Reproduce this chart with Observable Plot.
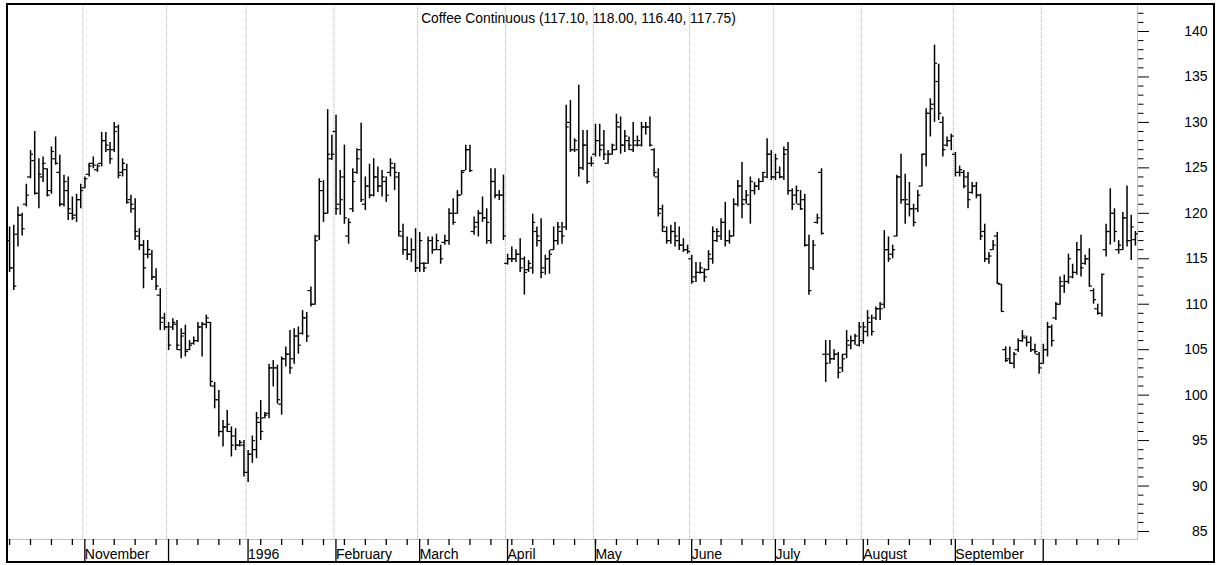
<!DOCTYPE html>
<html><head><meta charset="utf-8">
<script src="https://cdn.jsdelivr.net/npm/d3@7"></script>
<script src="https://cdn.jsdelivr.net/npm/@observablehq/plot@0.6"></script>
<style>
html,body{margin:0;padding:0;background:#fff;}
#wrap{position:relative;width:1217px;height:565px;overflow:hidden;}
#chart svg{display:block;}
#border{position:absolute;left:6px;top:3px;width:1209px;height:560px;box-sizing:border-box;border:2px solid #000;pointer-events:none;}
</style></head><body>
<div id="wrap"><div id="chart"></div><div id="border"></div></div>
<script>
const title = "Coffee Continuous (117.10, 118.00, 116.40, 117.75)";

// one row per month: Oct95, Nov, Dec, Jan96, Feb, Mar, Apr, May, Jun, Jul, Aug, Sep, Oct
const open = [
117,114,117.7,119.8,121,124,125.8,122.2,124,124.9,122.5,126,124.5,121,122.5,120,119.8,121.5,
122.8,124.3,125.5,124.8,125.5,128,127,127,129.5,124.5,124.8,121.5,120.5,117.5,116.5,115.5,115.5,113,111,108.5,
107.5,107.5,107.8,105,106.8,105,105.7,106,107.5,107.8,108,101,99.5,96,96.5,96,95.5,94.5,94.5,
91.5,93.5,94,97,97.5,98,103,103,99,104,104.5,104,106.5,106.8,108.5,111.5,110,117.5,122.5,120,126,
129,121,124,117.5,120.5,124.5,127,121,123,122,124,123,123.5,124.5,125,124,117.5,116,115.5,116,
114,114.5,114.5,117,116,116,116.8,117,120,120,122,124.7,127,118,119,120,119.5,117,123.5,122,122,
114.5,115,115,115.5,115,113.8,114,118,117,114,115,116,117,118,118.5,130,127,127,125,127.5,125.5,
126.5,128,127.5,125.5,126.5,127,129.5,127.5,128,127,127.5,127.5,129.5,129.5,127,124,120.5,118,117,118,117,116.5,116,
115,113,113.5,113.5,113.8,115,117,117.5,119,117,117.5,121,123,121.5,121,122.5,123,123.5,124,126.5,
124,124.5,124,127,122.5,122,121,121.5,116.5,114,119,124.5,104.5,104.5,104,104.5,103,104.5,105.5,106,105.5,
106,107,108,108.5,109.5,110,116,115.5,117.5,124,121.5,121,120.5,120.5,123,126.5,131,132,134.5,130,127.5,128,
126.5,124.5,124.5,124,122.3,123,122,118,115,116,117.5,112.2,105,104,103.5,105,106,106.3,105.8,105,104.5,
103.5,105,107.5,108.5,110,112,112.5,113,113.5,116,114.5,115,111.5,109.5,109,116,118,120,116,116,119.5,117,117.1
];
const high = [
118.5,118.7,120.7,120,123.2,126.9,129,126,126.2,124.9,127.3,128.4,126.4,124.2,124,121.8,122.1,123.2,
124,125.5,126.2,125.4,128.9,128.9,127.8,130,129.7,126,125.4,122,121.6,118.3,117,117,115.9,113.9,111.7,109,
108,108.4,108.2,107.3,107.7,106,106.4,108,108,108.8,108,101.4,100.5,97.2,98.3,96.5,96.3,95,95,
93.9,95.5,98.1,99.4,98.1,103.4,103.8,103.3,104.2,105.3,107.1,107.3,107.5,109.3,109.1,111.9,117.6,123.8,123.6,131.4,128.6,
130.8,124.7,127.5,119.4,124.9,127.1,129.9,124,125.4,126,125.1,124.7,124,126,125.5,124.5,118.8,117.4,117.2,118.3,
117.9,114.6,117.4,117.4,117.7,116.5,117.6,120.5,121.6,122.5,124.7,127.5,127.5,119.6,120.3,121.8,120.5,124.9,124.9,122.5,124.2,
115.5,116.3,116,117.2,115.2,114.8,119.9,118.5,119.4,115.4,115.9,118.5,119,119,131.9,132.4,128.2,134.1,129.1,129.1,126.2,
129.8,129.8,129.1,126.9,127.6,130.9,130.6,129.1,128.4,130,128.5,130,130,130.6,127.1,124.9,120.9,118.5,118.7,119,118.5,117.2,116.5,
115.4,114.6,114.6,113.9,115.9,118.5,118.3,119.4,121.2,118.1,121.6,123.6,125.6,122.5,124,123.4,123.8,124.5,128.2,126.9,
126.5,125.1,127.3,127.8,122.7,123,122.5,122.1,117.6,117,119.9,124.9,106,106,105,104.7,104.5,107.1,106.5,106.7,108,
108,109.3,108.8,109.7,110.2,118.1,117.4,116.5,124.2,126.5,124.3,123.4,121,122.5,126.5,131.5,132.6,138.5,136.4,130.6,128.4,128.7,
126.7,125.2,124.7,124.5,123.4,123.4,122.1,118.8,115.7,117,117.9,112.2,105.3,105.3,104.7,106.2,107.1,106.5,106.4,105.6,104.7,
105.6,108,107.7,110.2,113,113.2,115.5,114.4,116.8,117.6,115.4,116.1,111.7,110,113.3,118.8,122.7,120.5,117,120.1,123,119.8,118
];
const low = [
113.5,111.5,116.3,117.5,120.7,123.8,122,120.5,123.4,121.8,122.1,125.3,120.7,120.7,119.2,119.2,119,120.5,
122.7,124,124.9,124.5,125.1,126.7,125.4,126.7,123.8,124,121,120,117,115.9,111.7,115,112.6,111.5,107.1,107.1,
104.9,107.1,104.9,104,104.2,104.9,105.5,105.8,104.2,107.3,100.9,98.5,95.4,94.3,95.9,93.2,93.9,94.3,91,
90.4,92.5,93,95,97.4,97.4,100.9,99,97.8,103.1,102.3,103.4,104.5,106.6,105.8,109.7,109.9,117,119,119.9,125.8,
119.8,119.8,118.8,116.6,120.1,124.3,121.2,120.3,121.6,121.8,122.3,121.8,121.2,124,122.5,117.4,115.4,114.8,114.6,113.5,
113.5,113.5,114.4,115.5,115.9,114.4,116.5,116.5,118.7,119.9,122,124.7,124.5,117.6,117.4,119,116.6,116.6,121.6,121.4,117,
114.3,114.6,114.6,113.5,111,113.5,113.3,116.3,112.8,113.2,113.3,115.9,116.5,116.6,118.1,126.7,126.7,124,124.7,123.2,125.1,
126.2,126.2,125.8,125.4,126.4,126.9,126.5,126.7,126.9,126.7,127.3,127.3,128.6,127.3,124,119.6,117.9,116.6,116.6,116.3,115.9,115.7,115.5,
112.2,112.4,113.3,112.4,113.7,114.4,116.8,117,116.3,116.6,117.4,120.7,119.4,121,118.8,122,122.5,123.4,123.8,123.6,
123.6,123.8,123.6,122,120.3,121,120.3,116.3,111,113.7,118.8,117.6,101.4,103.4,103.8,101.8,102.5,104,105,105.5,105.3,
105.6,106.4,106.5,108.2,108.2,109.5,114.6,115,117.4,121,118.8,119.6,118.5,120.1,122.9,125.1,128.4,130,130.2,126.2,127.3,126.9,
124,124,122.7,120.5,122.1,121.6,117,114.6,114.4,115.9,112.2,109.1,103.6,103.4,102.9,104.7,105.8,105.3,104.7,104.5,102.3,
103.4,104.2,105.3,108.2,109.9,111.2,112.2,112.8,113.2,113,114.3,111.9,110,108.8,108.6,115.2,116.5,116.8,115.5,115.9,116.3,114.8,116.4
];
const close = [
114,112,119.8,118.3,122,126.5,122.2,124.3,125.5,122,126.8,125.5,121,123.5,120.5,119.5,121.5,122.5,
123.8,125.2,125.3,125.2,128,127.5,126,129,124.2,125.5,121.2,121,118,116.5,114,116,113,112,108,107.5,
105.5,108,105.5,106.5,104.8,105.5,106,107.5,107.8,108.5,101.5,99.5,96,96.5,96.8,94.5,94.5,94.8,91.5,
93.5,95,97.5,96,97.8,103,103,99.5,104,104.5,103,106.5,105.5,108.5,106.5,110,117,123.5,120,126.5,126.5,
120.5,121.5,119.5,119,123.5,126,121.5,123,122,124,123,124,122,125.5,124.5,118,116,115.5,116,114,
117,114,117,116,117,115,117,120,119,122,124.5,127,124.7,118.5,120,119.5,119,123.5,122,122,117.5,
115,115,115.5,114,113.5,114.5,119,117.5,113.5,115,115.5,117,118.5,117.5,129.5,127,128,125,127.5,123.5,125.5,
128,127,126.5,126.5,127.5,130,127.5,128.5,127.5,128,128,129.5,129.5,127.5,124.5,120,118.5,117,118,117.5,116.5,116,115.8,
112.5,113.5,114,113,115.5,118,118,119,117,117.5,121,123,121,122,123.5,123,123.5,124.5,126.5,124,
126,124,126.5,122.5,121,122.5,120.5,116.5,111.5,116.5,119.5,117.8,103.5,104,104.5,102.5,104,106,106,106.5,107.5,
107.5,108.5,107,109.5,109.5,116,115,116,124,121.5,121.5,120.5,119,122,126.5,131,131.5,136.5,131,127,128,128.5,
124.5,124.8,123,121.5,123,122,117.5,115,115.3,116.5,112.3,109.2,103.8,103.5,104.5,106,106.5,105.8,105,104.8,103,
105,107.5,106,110,112.5,112.5,115,113.5,116,114,115,112,110.5,109,113.3,118,120,118,116.5,119.5,117,118.5,117.75
];

// first trading-day index of each month boundary and its label
const monthStart = [18, 38, 57, 78, 98, 119, 140, 163, 183, 204, 226, 247];
const monthLabels = ["November", "", "1996", "February", "March", "April", "May", "June", "July", "August", "September", ""];
const yMajor = [85, 90, 95, 100, 105, 110, 115, 120, 125, 130, 135, 140];
const yDomain = [84.12, 142.97];

const N = close.length;
const bars = d3.range(N).map(i => ({i, o: open[i], h: high[i], l: low[i], c: close[i]}));
const seps = monthStart.map(k => k - 0.5);
const sepLabel = new Map(seps.map((s, k) => [s, monthLabels[k]]));
const weekTicks = d3.range(0, N, 5);
const yMinor = d3.range(Math.ceil(yDomain[0]), Math.floor(yDomain[1]) + 1).filter(v => v % 5 !== 0);
const half = 0.72;
const font = "'Liberation Sans', Arial, sans-serif";

const chart = Plot.plot({
  width: 1217, height: 565,
  marginLeft: 7, marginRight: 80, marginTop: 4, marginBottom: 26,
  x: {type: "linear", domain: [-0.5, N - 0.5], axis: null, label: null},
  y: {domain: yDomain, axis: null, label: null},
  style: {fontFamily: font, fontSize: "14px", background: "#fff", color: "#000"},
  marks: [
    Plot.ruleX(seps, {stroke: "#b0b0b0", strokeDasharray: "1,1", strokeWidth: 1}),
    Plot.frame({stroke: "#c4c4c4"}),
    Plot.ruleX(bars, {x: "i", y1: "l", y2: "h", stroke: "#000", strokeWidth: 1.5}),
    Plot.ruleY(bars, {x1: d => d.i - half, x2: "i", y: "o", stroke: "#000", strokeWidth: 1.2}),
    Plot.ruleY(bars, {x1: "i", x2: d => d.i + half, y: "c", stroke: "#000", strokeWidth: 1.2}),
    Plot.axisY(yMinor, {anchor: "right", label: null, tickSize: 5.5, tickFormat: () => "", stroke: "#000"}),
    Plot.axisY(yMajor, {anchor: "right", label: null, tickSize: 11, tickPadding: 59, textAnchor: "end", tickFormat: d => String(d), stroke: "#000", fontSize: 14}),
    Plot.axisX(weekTicks, {anchor: "bottom", label: null, tickSize: 6, tickFormat: () => "", stroke: "#000", strokeWidth: 1.3}),
    Plot.axisX(seps, {anchor: "bottom", label: null, tickSize: 24, tickPadding: -9, textAnchor: "start", lineAnchor: "middle", dx: 2, tickFormat: d => sepLabel.get(d), stroke: "#000", strokeWidth: 1.3, fontSize: 14}),
    Plot.text([title], {frameAnchor: "top", dy: 14, dx: 6, lineAnchor: "middle", fontSize: 13.8, fill: "#000"})
  ]
});
document.getElementById("chart").appendChild(chart);
</script></body></html>
